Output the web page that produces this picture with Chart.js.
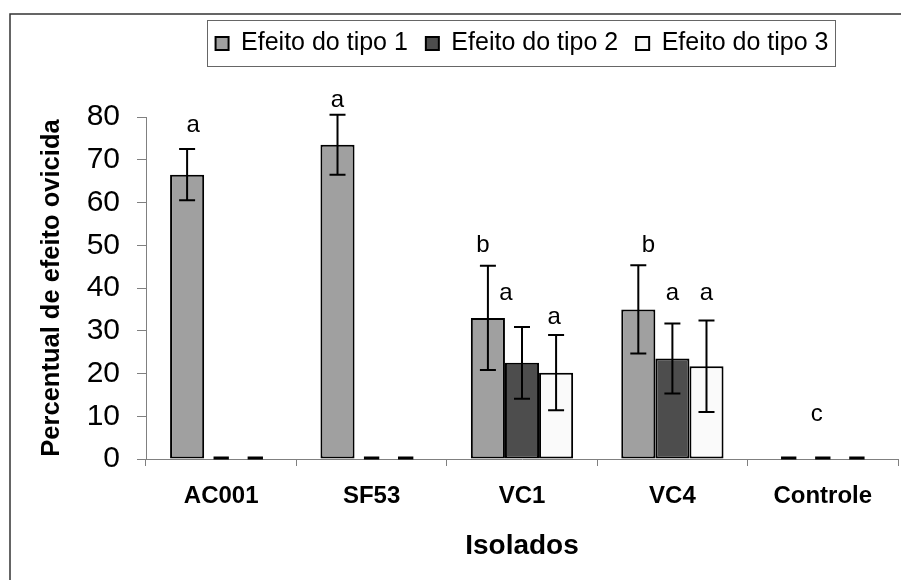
<!DOCTYPE html>
<html>
<head>
<meta charset="utf-8">
<script src="https://cdn.jsdelivr.net/npm/chart.js@4.4.0/dist/chart.umd.min.js"></script>
<style>
    html, body { margin: 0; padding: 0; background: #fff; }
    .chart-box { position: relative; width: 901px; height: 580px; }
</style>
</head>
<body>
<div class="chart-box"><canvas id="ovicidaChart"></canvas></div>
<script>
// data
const categories = ['AC001', 'SF53', 'VC1', 'VC4', 'Controle'];
const seriesNames = ['Efeito do tipo 1', 'Efeito do tipo 2', 'Efeito do tipo 3'];
const tipo1 = [66.5, 73.5, 33, 35, 0];
const tipo2 = [0, 0, 22.5, 23.5, 0];
const tipo3 = [0, 0, 20.2, 21.7, 0];
const erro1 = [6, 7, 12.2, 10.3, 0];
const erro2 = [0, 0, 8.4, 8.2, 0];
const erro3 = [0, 0, 8.8, 10.7, 0];
// significance letters and the height (in %) where each sits
const letras1 = ['a', 'a', 'b', 'b', ''];
const letras2 = ['', '', 'a', 'a', 'c'];
const letras3 = ['', '', 'a', 'a', ''];
const alturaLetras1 = [78, 84, 50, 50, null];
const alturaLetras2 = [null, null, 38.8, 38.8, 10.5];
const alturaLetras3 = [null, null, 33.2, 38.8, null];
const yTicks = [0, 10, 20, 30, 40, 50, 60, 70, 80];

const FONT = "'Liberation Sans', Arial, sans-serif";
Chart.defaults.font.family = FONT;
Chart.defaults.color = '#000';

const erros = [erro1, erro2, erro3];
const letras = [letras1, letras2, letras3];
const alturas = [alturaLetras1, alturaLetras2, alturaLetras3];

// outer frame + legend outline
const framePlugin = {
    id: 'frame',
    beforeDraw(chart) {
        const c = chart.ctx;
        c.save();
        c.strokeStyle = '#333';
        c.lineWidth = 1.5;
        c.strokeRect(10, 14, 1000, 1000);
        c.restore();
    },
    afterDraw(chart) {
        const hb = chart.legend.legendHitBoxes;
        if (!hb || !hb.length) return;
        const first = hb[0], last = hb[hb.length - 1];
        const c = chart.ctx;
        c.save();
        c.strokeStyle = '#666';
        c.lineWidth = 1;
        const x0 = Math.round(first.left - 9) + 0.5;
        const x1 = Math.round(last.left + last.width + 7) + 0.5;
        const y0 = 20.5;
        const y1 = 66.5;
        c.strokeRect(x0, y0, x1 - x0, y1 - y0);
        c.restore();
    }
};

// error bars, zero dashes and letters
const markPlugin = {
    id: 'marks',
    afterDatasetsDraw(chart, args, opts) {
        const c = chart.ctx;
        const yScale = chart.scales.y;
        c.save();
        chart.data.datasets.forEach((ds, di) => {
            const meta = chart.getDatasetMeta(di);
            meta.data.forEach((bar, i) => {
                const v = ds.data[i];
                const e = erros[di][i];
                c.strokeStyle = '#000';
                if (v === 0) {
                    const w = bar.width * 0.45;
                    c.lineWidth = 3;
                    c.beginPath();
                    c.moveTo(bar.x - w / 2, bar.base - 1);
                    c.lineTo(bar.x + w / 2, bar.base - 1);
                    c.stroke();
                }
                if (e > 0) {
                    const yt = yScale.getPixelForValue(v + e);
                    const yb = yScale.getPixelForValue(v - e);
                    const cap = 8;
                    c.lineWidth = 2;
                    c.beginPath();
                    c.moveTo(bar.x, yt); c.lineTo(bar.x, yb);
                    c.moveTo(bar.x - cap, yt); c.lineTo(bar.x + cap, yt);
                    c.moveTo(bar.x - cap, yb); c.lineTo(bar.x + cap, yb);
                    c.stroke();
                }
                const txt = letras[di][i];
                if (txt) {
                    c.fillStyle = '#000';
                    c.font = '24px ' + FONT;
                    c.textAlign = 'center';
                    c.textBaseline = 'middle';
                    const dx = opts.nudge[di][i] || 0;
                    c.fillText(txt, bar.x + dx, yScale.getPixelForValue(alturas[di][i]));
                }
            });
        });
        c.restore();
    }
};

document.addEventListener('DOMContentLoaded', function() {
    const ctx = document.getElementById('ovicidaChart').getContext('2d');
    const fills = ['#a0a0a0', '#4d4d4d', '#fafafa'];
    const series = [tipo1, tipo2, tipo3];

    new Chart(ctx, {
        type: 'bar',
        data: {
            labels: categories,
            datasets: series.map((d, i) => ({
                label: seriesNames[i],
                data: d,
                backgroundColor: fills[i],
                borderColor: '#000',
                borderWidth: 2,
                borderSkipped: false,
                barPercentage: 1,
                categoryPercentage: 0.68
            }))
        },
        options: {
            responsive: true,
            maintainAspectRatio: false,
            animation: false,
            layout: {
                padding: { left: 10, right: 3, top: 13, bottom: 0 }
            },
            plugins: {
                legend: {
                    position: 'top',
                    fullSize: false,
                    labels: {
                        font: { size: 25 },
                        color: '#000',
                        boxWidth: 13,
                        boxHeight: 13,
                        padding: 18
                    }
                },
                // empty title used as a spacer under the legend
                title: {
                    display: true,
                    text: '',
                    weight: 500,
                    padding: 0,
                    font: { size: 40, lineHeight: 1.275 }
                },
                tooltip: { enabled: false },
                marks: {
                    nudge: [[6, 0, -5, 10, 0], [0, 0, -16, 0, -6], [0, 0, -2, 0, -9]]
                }
            },
            scales: {
                x: {
                    grid: {
                        display: true,
                        drawOnChartArea: false,
                        tickLength: 7,
                        color: '#808080',
                        offset: true
                    },
                    border: { color: '#808080', width: 1 },
                    ticks: {
                        color: '#000',
                        padding: 16,
                        font: { size: 24, weight: 'bold' }
                    },
                    title: {
                        display: true,
                        text: 'Isolados',
                        color: '#000',
                        font: { size: 28, weight: 'bold' },
                        padding: { top: 0, bottom: 17 }
                    },
                    afterFit: function(scale) { scale.height = 121; }
                },
                y: {
                    min: 0,
                    max: 80,
                    afterBuildTicks: function(scale) {
                        scale.ticks = yTicks.map(v => ({ value: v }));
                    },
                    grid: {
                        drawOnChartArea: false,
                        tickLength: 9,
                        color: '#808080'
                    },
                    border: { color: '#808080', width: 1 },
                    ticks: {
                        color: '#000',
                        padding: 17,
                        font: { size: 30 }
                    },
                    title: {
                        display: true,
                        text: 'Percentual de efeito ovicida',
                        color: '#000',
                        font: { size: 25.5, weight: 'bold' },
                        padding: { top: 27, bottom: 0 }
                    },
                    afterFit: function(scale) { scale.width = 136; }
                }
            }
        },
        plugins: [framePlugin, markPlugin]
    });
});
</script>
</body>
</html>
